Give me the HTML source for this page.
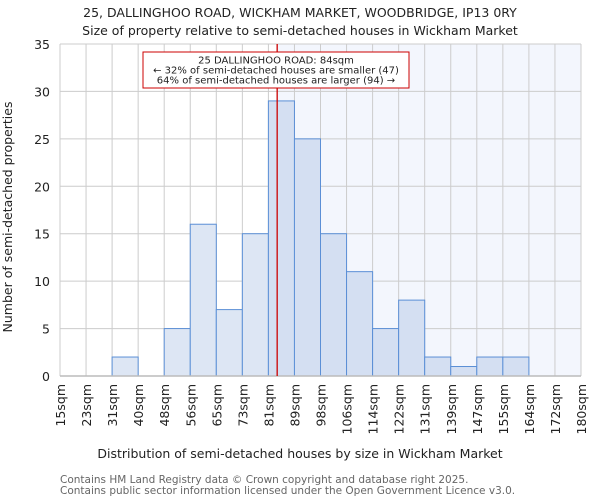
<!DOCTYPE html>
<html><head><meta charset="utf-8"><style>
body{margin:0;background:#fff;font-family:"DejaVu Sans","Liberation Sans",sans-serif;}
svg text{font-family:"DejaVu Sans","Liberation Sans",sans-serif;}
</style></head><body>
<svg id="chart" width="600" height="500" xmlns="http://www.w3.org/2000/svg">
<text x="300" y="17" text-anchor="middle" font-size="12.5" fill="#222">25, DALLINGHOO ROAD, WICKHAM MARKET, WOODBRIDGE, IP13 0RY</text>
<text x="300" y="35" text-anchor="middle" font-size="12.5" fill="#222">Size of property relative to semi-detached houses in Wickham Market</text>
<g id="plot"></g>
<text x="300" y="458" text-anchor="middle" font-size="12.5" fill="#222">Distribution of semi-detached houses by size in Wickham Market</text>
<text transform="translate(12,217) rotate(-90)" text-anchor="middle" font-size="12.5" fill="#222">Number of semi-detached properties</text>
<text x="60" y="483" font-size="10.5" fill="#666">Contains HM Land Registry data © Crown copyright and database right 2025.</text>
<text x="60" y="494" font-size="10.5" fill="#666">Contains public sector information licensed under the Open Government Licence v3.0.</text>
</svg>
<script>
const tickLabels=["15sqm","23sqm","31sqm","40sqm","48sqm","56sqm","65sqm","73sqm","81sqm","89sqm","98sqm","106sqm","114sqm","122sqm","131sqm","139sqm","147sqm","155sqm","164sqm","172sqm","180sqm"];
const binEdges=[15,23,31,40,48,56,65,73,81,89,98,106,114,122,131,139,147,155,164,172,180];
const counts=[0,0,2,0,5,16,7,15,29,25,15,11,5,8,2,1,2,2,0,0];
const yTicks=[0,5,10,15,20,25,30,35];
const propertySize=84;
const X0=60,X1=581,Y0=376,Y1=44,YMAX=35,N=counts.length;
const bw=(X1-X0)/N;
const xIdx=i=>X0+i*bw;
const xVal=v=>{for(let i=0;i<N;i++){if(v<=binEdges[i+1])return xIdx(i)+(v-binEdges[i])/(binEdges[i+1]-binEdges[i])*bw;}return X1;};
const y=v=>Y0-(v/YMAX)*(Y0-Y1);
const NS="http://www.w3.org/2000/svg";
const g=document.getElementById('plot');
function mk(t,a){const e=document.createElementNS(NS,t);for(const k in a)e.setAttribute(k,a[k]);g.appendChild(e);return e;}
const px=xVal(propertySize)-1;
let e=mk('rect',{x:px,y:Y1,width:X1-px,height:Y0-Y1,fill:'#f3f6fd'});


yTicks.forEach(t=>{
 let l=mk('line',{x1:X0,x2:X1,y1:y(t),y2:y(t),stroke:'#ccc','stroke-width':1});
 
 
 let tx=mk('text',{x:X0-10,y:y(t)+5,'text-anchor':'end','font-size':12.5,fill:'#222'});
 tx.textContent=t;
 
 
});
tickLabels.forEach((t,i)=>{
 let l=mk('line',{x1:xIdx(i),x2:xIdx(i),y1:Y1,y2:Y0,stroke:'#ccc','stroke-width':1});
 
 
 let tx=mk('text',{transform:`translate(${xIdx(i)+5},${Y0+8}) rotate(-90)`,'text-anchor':'end','font-size':12.5,fill:'#222'});
 tx.textContent=t;
 
 
});
counts.forEach((c,i)=>{
 if(c<=0)return;
 let r=mk('rect',{x:xIdx(i),y:y(c),width:bw,height:Y0-y(c),fill:xIdx(i)+bw<=px?'#dde6f4':'#d4dff2',stroke:'#5b8fd6','stroke-width':1});
 
 
});
e=mk('line',{x1:X0,x2:X1,y1:Y0,y2:Y0,stroke:'#bbb','stroke-width':1.5});


e=mk('line',{x1:px,x2:px,y1:Y1,y2:Y0,stroke:'#c00','stroke-width':1.3});


e=mk('rect',{x:143,y:52,width:266,height:36,fill:'#fff',stroke:'#c00','stroke-width':1});


["25 DALLINGHOO ROAD: 84sqm","← 32% of semi-detached houses are smaller (47)","64% of semi-detached houses are larger (94) →"].forEach((s,i)=>{
 let t=mk('text',{x:276,y:63.5+i*10,'text-anchor':'middle','font-size':10,fill:'#222'});
 t.textContent=s;
 
 
});
</script>
</body></html>
